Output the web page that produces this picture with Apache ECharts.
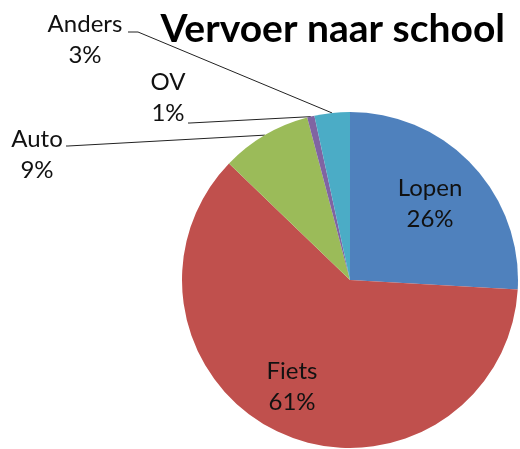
<!DOCTYPE html>
<html>
<head>
<meta charset="utf-8">
<script src="https://cdn.jsdelivr.net/npm/echarts@6/dist/echarts.min.js"></script>
<style>
    html, body { margin: 0; padding: 0; background: #fff; }
    #myChart { width: 520px; height: 449px; }
</style>
</head>
<body>
<div id="myChart"></div>
<script>
// data
const categories = ["Lopen", "Fiets", "Auto", "OV", "Anders"];
const shares = [25.9, 61.3, 8.7, 0.7, 3.4];

const colorList = ["#4f81bd", "#c0504d", "#9bbb59", "#8064a2", "#4bacc6"];

// where each label sits (centre of the two-line block) and the elbow of its leader line
const labelSpots = [
    { x: 430, y: 204 },
    { x: 292, y: 387 },
    { x: 37, y: 155, line: [[68, 146], [66, 146]] },
    { x: 168, y: 98, line: [[190, 123], [188, 123]] },
    { x: 85, y: 40, line: [[138, 32], [128, 32]] }
];

const myChart = echarts.init(document.getElementById("myChart"));

const option = {
    animation: false,
    title: {
        text: "Vervoer naar school",
        right: 10,
        top: 5,
        textStyle: {
            fontFamily: "Lato",
            fontWeight: "bold",
            fontSize: 39,
            color: "#000"
        }
    },
    series: [
        {
            name: "Vervoer",
            type: "pie",
            radius: 168,
            center: [350, 280],
            startAngle: 90,
            clockwise: true,
            percentPrecision: 0,
            avoidLabelOverlap: false,
            data: categories.map((name, i) => {
                const item = { name: name, value: shares[i] };
                if (!labelSpots[i].line) {
                    item.labelLine = { show: false };
                }
                return item;
            }),
            itemStyle: {
                color: function (params) {
                    return colorList[params.dataIndex];
                },
                borderWidth: 0
            },
            label: {
                show: true,
                position: "outside",
                formatter: "{b}\n{d}%",
                fontFamily: "Lato",
                fontSize: 24,
                lineHeight: 31,
                color: "#111",
                align: "center"
            },
            labelLine: {
                show: true,
                lineStyle: { color: "#222", width: 1 }
            },
            labelLayout: function (params) {
                const spot = labelSpots[params.dataIndex];
                const res = {
                    x: spot.x,
                    y: spot.y,
                    align: "center",
                    verticalAlign: "middle"
                };
                if (spot.line && params.labelLinePoints) {
                    res.labelLinePoints = [params.labelLinePoints[0], spot.line[0], spot.line[1]];
                }
                return res;
            }
        }
    ]
};

myChart.setOption(option);
</script>
</body>
</html>
